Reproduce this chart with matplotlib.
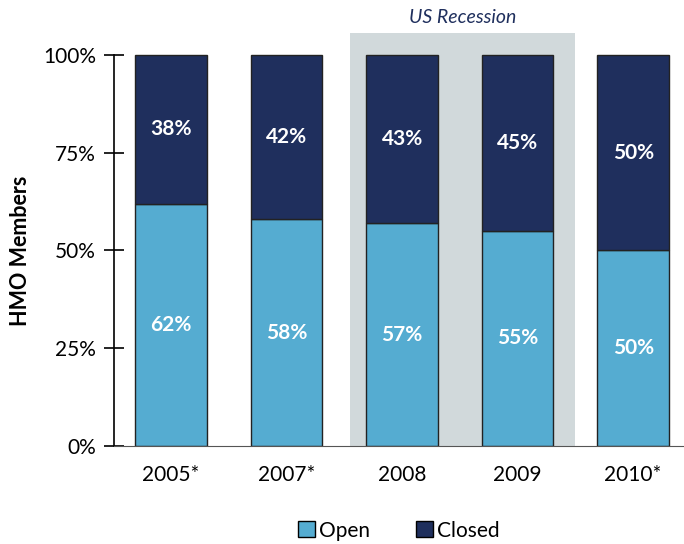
import matplotlib
matplotlib.use("Agg")
from matplotlib import pyplot as plt
from matplotlib.ticker import PercentFormatter
from matplotlib.patches import Patch

years = ["2005*", "2007*", "2008", "2009", "2010*"]
open_share = [62, 58, 57, 55, 50]
closed_share = [38, 42, 43, 45, 50]

OPEN_COLOR = "#55acd1"
CLOSED_COLOR = "#1f2f5d"
RECESSION_COLOR = "#d1d9db"

plt.rcParams["font.family"] = ["Lato", "DejaVu Sans"]

fig = plt.figure(figsize=(6.84, 5.44), dpi=100)
ax = fig.add_axes([0.1667, 0.1801, 0.8333, 0.7592])

x = list(range(len(years)))
ax.axvspan(1.55, 3.5, color=RECESSION_COLOR, zorder=0, lw=0)
ax.bar(x, open_share, width=0.62, color=OPEN_COLOR, edgecolor="#222222", lw=1, zorder=2)
ax.bar(x, closed_share, width=0.62, bottom=open_share, color=CLOSED_COLOR,
       edgecolor="#222222", lw=1, zorder=2)

for i in x:
    ax.text(i, open_share[i] / 2, f"{open_share[i]}%", ha="center", va="center",
            color="white", fontsize=15, fontweight="bold", zorder=3)
    ax.text(i, open_share[i] + closed_share[i] / 2, f"{closed_share[i]}%", ha="center",
            va="center", color="white", fontsize=15, fontweight="bold", zorder=3)

ax.text(2.525, 107.3, "US Recession", ha="center", va="bottom", style="italic",
        color=CLOSED_COLOR, fontsize=14)

ax.set_xlim(-0.494, 4.44)
ax.set_ylim(0, 105.6)
ax.set_yticks([0, 25, 50, 75, 100])
ax.yaxis.set_major_formatter(PercentFormatter(decimals=0))
ax.set_xticks(x)
ax.set_xticklabels(years)
ax.tick_params(axis="y", direction="inout", length=14, width=1.2, labelsize=15, pad=6)
ax.tick_params(axis="x", length=0, labelsize=15, pad=14)
for s in ["top", "right"]:
    ax.spines[s].set_visible(False)
ax.spines["left"].set_bounds(0, 100)
ax.spines["left"].set_linewidth(1.2)
ax.spines["bottom"].set_color("#555555")
ax.set_ylabel("HMO Members", fontsize=15.5, fontweight="bold")
ax.yaxis.set_label_coords(-0.146, 50 / 105.6)

handles = [Patch(facecolor=OPEN_COLOR, edgecolor="black", label="Open"),
           Patch(facecolor=CLOSED_COLOR, edgecolor="black", label="Closed")]
ax.legend(handles=handles, loc="upper center", bbox_to_anchor=(0.5, -0.135), ncol=2,
          frameon=False, fontsize=15, handlelength=0.8, handleheight=0.8,
          handletextpad=0.2, columnspacing=2.2)

plt.savefig("out.png", dpi=100)
